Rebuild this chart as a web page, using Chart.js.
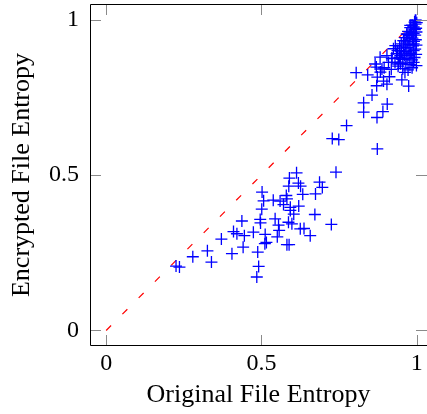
<!DOCTYPE html>
<html>
<head>
<meta charset="utf-8">
<script src="https://cdn.jsdelivr.net/npm/chart.js@4/dist/chart.umd.min.js"></script>
<style>
html, body { margin: 0; padding: 0; background: #fff; overflow: hidden; }
</style>
</head>
<body>
<canvas id="myChart" width="427" height="414"></canvas>
<script>
// entropy of each file before (x) and after (y) encryption
const originalEntropy = [
    0.225, 0.236, 0.279, 0.326, 0.339, 0.371, 0.405, 0.410, 0.421, 0.441,
    0.445, 0.437, 0.474, 0.488, 0.491, 0.485, 0.496, 0.497, 0.501, 0.502,
    0.507, 0.512, 0.511, 0.516, 0.538, 0.544, 0.551, 0.555, 0.557, 0.560,
    0.571, 0.580, 0.582, 0.582, 0.589, 0.587, 0.590, 0.588, 0.593, 0.593,
    0.598, 0.604, 0.613, 0.619, 0.626, 0.620, 0.625, 0.633, 0.637, 0.657,
    0.672, 0.674, 0.687, 0.696, 0.725, 0.740,
    0.728, 0.749, 0.774, 0.829, 0.829, 0.872, 0.891, 0.905, 0.873, 0.856,
    0.805, 0.842, 0.870, 0.873, 0.883, 0.893, 0.904, 0.871, 0.912, 0.952,
    0.974, 0.866, 0.882, 0.895, 0.904, 0.909, 0.925, 0.947,
    0.888, 0.920, 0.947, 0.941, 0.979, 0.990, 0.968, 0.995, 0.979, 0.957, 0.931,
    0.997, 0.993, 1.000, 0.996,
    0.985, 0.990, 0.998, 0.979, 0.994,
    0.972, 0.983, 0.990, 0.999, 0.968, 0.978, 0.995,
    0.962, 0.975, 0.986, 0.997, 0.958, 0.969, 0.991,
    0.950, 0.963, 0.978, 0.988, 0.999, 0.945, 0.957, 0.972, 0.995,
    0.938, 0.951, 0.966, 0.982, 0.990, 0.935, 0.960, 0.975, 0.998,
    0.920, 0.944, 0.955, 0.969, 0.985, 0.993,
    0.930, 0.948, 0.965, 0.978, 0.990, 0.999, 0.940,
    0.955, 0.972, 0.985, 0.962, 0.918
];
const encryptedEntropy = [
    0.207, 0.204, 0.237, 0.256, 0.220, 0.294, 0.247, 0.318, 0.311, 0.268,
    0.305, 0.352, 0.316, 0.252, 0.206, 0.172, 0.357, 0.346, 0.390, 0.445,
    0.417, 0.309, 0.279, 0.283, 0.419, 0.359, 0.301, 0.339, 0.322, 0.416,
    0.405, 0.434, 0.423, 0.276, 0.276, 0.348, 0.490, 0.464, 0.396, 0.386,
    0.343, 0.374, 0.507, 0.474, 0.464, 0.400, 0.327, 0.438, 0.328, 0.305,
    0.373, 0.439, 0.477, 0.460, 0.341, 0.509,
    0.617, 0.614, 0.659, 0.732, 0.702, 0.685, 0.704, 0.728, 0.584, 0.757,
    0.829, 0.822, 0.847, 0.815, 0.831, 0.802, 0.792, 0.787, 0.816, 0.806,
    0.786, 0.857, 0.879, 0.845, 0.884, 0.862, 0.906, 0.863,
    0.841, 0.874, 0.884, 0.857, 0.890, 0.922, 0.954, 0.997, 0.981, 0.932, 0.916,
    0.998, 0.992, 0.990, 0.985,
    0.982, 0.976, 0.972, 0.974, 0.968,
    0.962, 0.958, 0.955, 0.960, 0.952, 0.948, 0.950,
    0.942, 0.938, 0.940, 0.935, 0.932, 0.928, 0.930,
    0.922, 0.918, 0.920, 0.915, 0.918, 0.912, 0.908, 0.910, 0.905,
    0.900, 0.896, 0.898, 0.893, 0.900, 0.890, 0.886, 0.884, 0.888,
    0.876, 0.878, 0.872, 0.875, 0.870, 0.878,
    0.862, 0.858, 0.860, 0.855, 0.862, 0.852, 0.850,
    0.842, 0.838, 0.845, 0.830, 0.840
];
// reference line y = x
const diagonalX = [0, 1];
const diagonalY = [0, 1];
const tickValues = [0, 0.5, 1];

const serif = '"Liberation Serif", "DejaVu Serif", serif';

const points = originalEntropy.map((v, i) => ({x: v, y: encryptedEntropy[i]}));
const diagonal = diagonalX.map((v, i) => ({x: v, y: diagonalY[i]}));

// pgfplots style box with inward ticks on all four sides
const framePlugin = {
    id: 'frame',
    afterDatasetsDraw(chart) {
        const ctx = chart.ctx, a = chart.chartArea;
        const x = chart.scales.x, y = chart.scales.y;
        ctx.save();
        ctx.strokeStyle = '#8a8a8a';
        ctx.lineWidth = 1;
        ctx.beginPath();
        tickValues.forEach(function (v) {
            const px = Math.round(x.getPixelForValue(v)) + 0.5;
            const py = Math.round(y.getPixelForValue(v)) + 0.5;
            ctx.moveTo(px, a.top); ctx.lineTo(px, a.top + 11);
            ctx.moveTo(px, a.bottom); ctx.lineTo(px, a.bottom - 11);
            ctx.moveTo(a.left, py); ctx.lineTo(a.left + 11, py);
            ctx.moveTo(a.right, py); ctx.lineTo(a.right - 11, py);
        });
        ctx.stroke();
        // right side of the box falls just outside the picture
        ctx.strokeStyle = '#000';
        ctx.beginPath();
        ctx.moveTo(a.right + 1, a.top + 0.5);
        ctx.lineTo(a.left + 0.5, a.top + 0.5);
        ctx.lineTo(a.left + 0.5, a.bottom - 0.5);
        ctx.lineTo(a.right + 1, a.bottom - 0.5);
        ctx.stroke();
        ctx.restore();
    }
};

const config = {
    data: {
        datasets: [{
            type: 'scatter',
            data: points,
            pointStyle: 'cross',
            pointRadius: 6,
            pointBorderWidth: 1.3,
            borderColor: '#0000ff',
            backgroundColor: '#0000ff'
        }, {
            type: 'line',
            data: diagonal,
            borderColor: '#ff0000',
            borderWidth: 1.2,
            borderDash: [7, 16],
            pointRadius: 0,
            fill: false
        }]
    },
    options: {
        responsive: false,
        animation: false,
        events: [],
        layout: {autoPadding: false, padding: {top: 4, right: 0, bottom: 0, left: 0}},
        plugins: {legend: {display: false}, tooltip: {enabled: false}},
        scales: {
            x: {
                type: 'linear',
                min: -0.052,
                max: 1.033,
                grid: {display: false, drawTicks: false},
                border: {display: false},
                afterBuildTicks: s => { s.ticks = tickValues.map(v => ({value: v})); },
                afterFit: s => { s.height = 68; s.paddingLeft = 0; s.paddingRight = 0; },
                ticks: {color: '#000', padding: 3, font: {family: serif, size: 24}, callback: v => String(v)},
                title: {
                    display: true,
                    text: 'Original File Entropy',
                    color: '#000',
                    padding: {top: 0, bottom: 3},
                    font: {family: serif, size: 26}
                }
            },
            y: {
                type: 'linear',
                min: -0.05,
                max: 1.05,
                grid: {display: false, drawTicks: false},
                border: {display: false},
                afterBuildTicks: s => { s.ticks = tickValues.map(v => ({value: v})); },
                afterFit: s => { s.width = 90; s.paddingTop = 0; s.paddingBottom = 0; },
                ticks: {color: '#000', padding: 11, font: {family: serif, size: 24}, callback: v => String(v)},
                title: {
                    display: true,
                    text: 'Encrypted File Entropy',
                    color: '#000',
                    padding: {top: 7, bottom: 0},
                    font: {family: serif, size: 26}
                }
            }
        }
    },
    plugins: [framePlugin]
};

var myChart = new Chart(document.getElementById('myChart'), config);
</script>
</body>
</html>
